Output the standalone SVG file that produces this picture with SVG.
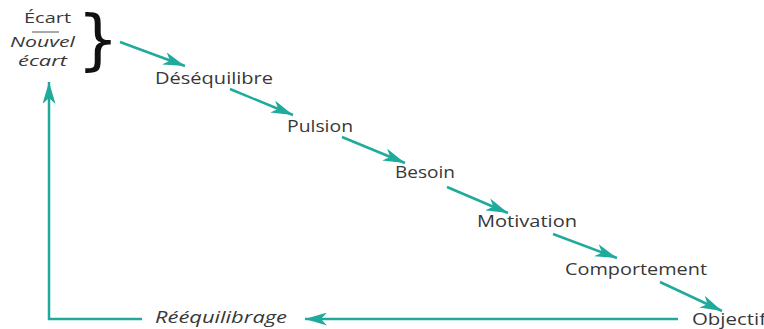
<svg xmlns="http://www.w3.org/2000/svg" width="764" height="329" viewBox="0 0 764 329">
<defs>
<marker id="ah" viewBox="0 0 22 13" refX="22" refY="6.5" markerWidth="22" markerHeight="13" markerUnits="userSpaceOnUse" orient="auto">
<path d="M0,0 L22,6.5 L0,13 L6,6.5 Z" fill="#1faa9c"/>
</marker>
</defs>
<style>
.t{font-family:"Open Sans","Liberation Sans",sans-serif;font-size:16px;fill:#383838;}
.s{font-size:14px;}
.i{font-style:italic;}
.c{stroke:#1faa9c;stroke-width:2.5;fill:none;}
</style>
<rect width="764" height="329" fill="#fff"/>
<g id="ecart">
<text class="t s" x="24" y="23" textLength="47" lengthAdjust="spacingAndGlyphs">Écart</text>
<line x1="32" y1="32" x2="59" y2="32" stroke="#555" stroke-width="1"/>
<text class="t s i" x="10" y="47" textLength="65" lengthAdjust="spacingAndGlyphs">Nouvel</text>
<text class="t s i" x="18" y="66" textLength="49" lengthAdjust="spacingAndGlyphs">écart</text>
<text x="98" y="62" font-family="DejaVu Sans,sans-serif" font-size="66" fill="#111" text-anchor="middle">}</text>
</g>
<g id="desequilibre"><text class="t" x="155" y="84" textLength="118" lengthAdjust="spacingAndGlyphs">Déséquilibre</text></g>
<g id="pulsion"><text class="t" x="287" y="132" textLength="66" lengthAdjust="spacingAndGlyphs">Pulsion</text></g>
<g id="besoin"><text class="t" x="395" y="178" textLength="60" lengthAdjust="spacingAndGlyphs">Besoin</text></g>
<g id="motivation"><text class="t" x="477" y="227" textLength="100" lengthAdjust="spacingAndGlyphs">Motivation</text></g>
<g id="comportement"><text class="t" x="565" y="275" textLength="142" lengthAdjust="spacingAndGlyphs">Comportement</text></g>
<g id="objectif"><text class="t" x="692" y="325" textLength="74" lengthAdjust="spacingAndGlyphs">Objectif</text></g>
<g id="reequilibrage"><text class="t i" x="155" y="323" textLength="132" lengthAdjust="spacingAndGlyphs">Rééquilibrage</text></g>
<g id="connectors">
<line class="c" x1="120" y1="42" x2="185" y2="66" marker-end="url(#ah)"/>
<line class="c" x1="230" y1="89" x2="293" y2="115" marker-end="url(#ah)"/>
<line class="c" x1="342" y1="137" x2="405" y2="163" marker-end="url(#ah)"/>
<line class="c" x1="447" y1="187" x2="508" y2="213" marker-end="url(#ah)"/>
<line class="c" x1="553" y1="234" x2="617" y2="258" marker-end="url(#ah)"/>
<line class="c" x1="660" y1="282" x2="722" y2="311" marker-end="url(#ah)"/>
<line class="c" x1="678" y1="319" x2="305" y2="319" marker-end="url(#ah)"/>
<polyline class="c" points="142,319 49,319 49,82" marker-end="url(#ah)"/>
</g>
</svg>
